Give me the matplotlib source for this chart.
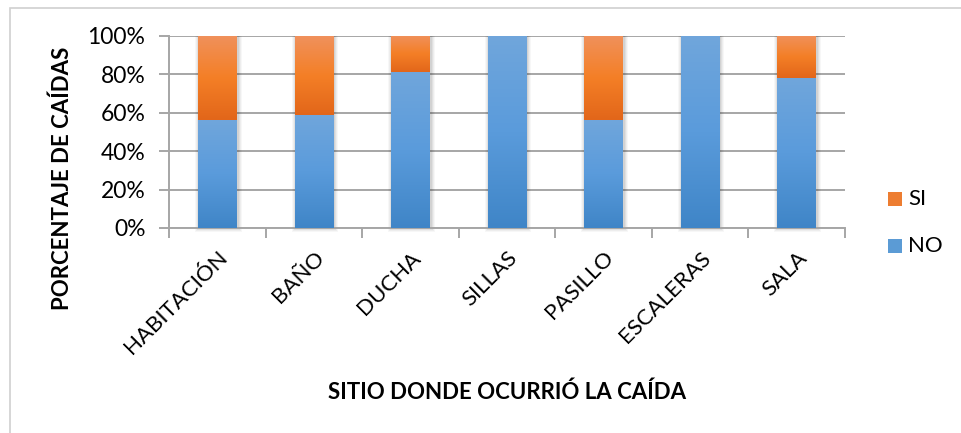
import numpy as np
import matplotlib.pyplot as plt
from matplotlib.colors import LinearSegmentedColormap
from matplotlib.patches import Rectangle

sitios = ['HABITACIÓN', 'BAÑO', 'DUCHA', 'SILLAS', 'PASILLO', 'ESCALERAS', 'SALA']
no_pct = [56, 59, 81, 100, 56, 100, 78]
si_pct = [44, 41, 19, 0, 44, 0, 22]
y_ticks = [0, 20, 40, 60, 80, 100]
series = ['SI', 'NO']
series_colors = ['#ed7d31', '#5b9bd5']

plt.rcParams['font.family'] = ['Lato', 'DejaVu Sans']

blue_cm = LinearSegmentedColormap.from_list('b', ['#3f85c7', '#5a9bdb', '#70a6dc'])
orange_cm = LinearSegmentedColormap.from_list('o', ['#e2661a', '#f47f26', '#f0915c'])
grad = np.linspace(0, 1, 256).reshape(-1, 1)

fig = plt.figure(figsize=(9.61, 4.33), dpi=100)
# outer chart frame (top/left edges visible)
fig.add_artist(Rectangle((10 / 961, -0.1), 1.2, (433 - 8) / 433 + 0.1,
                         transform=fig.transFigure, fill=False,
                         edgecolor='#d0d0d0', lw=1.2))

ax = fig.add_axes([169 / 961, (433 - 228) / 433, 676 / 961, 192 / 433])
x = np.arange(len(sitios))
w = 0.4
px_x = 7 / 676
px_y = 100 / 192

# soft shadows behind the full stacks
for i in x:
    top = no_pct[i] + si_pct[i]
    for k, a in [(4, 0.03), (3, 0.04), (2, 0.05), (1, 0.06)]:
        ax.add_patch(Rectangle((i - w / 2 - k * px_x + px_x, -k * px_y),
                               w + 2 * k * px_x, top + k * px_y,
                               facecolor='black', edgecolor='none', alpha=a,
                               zorder=2, clip_on=False))


def gradient_bar(xc, bottom, height, cmap):
    if height <= 0:
        return
    ax.imshow(grad, cmap=cmap, origin='lower', aspect='auto',
              extent=(xc - w / 2, xc + w / 2, bottom, bottom + height), zorder=3)


for i in x:
    gradient_bar(i, 0, no_pct[i], blue_cm)
    gradient_bar(i, no_pct[i], si_pct[i], orange_cm)

ax.set_xlim(-0.5, len(sitios) - 0.5)
ax.set_ylim(0, 100)
ax.set_yticks(y_ticks)
ax.set_yticklabels([f'{v}%' for v in y_ticks], fontsize=16.5)
ax.yaxis.grid(True, color='#a6a6a6', lw=1.4)
ax.set_axisbelow(True)
ax.tick_params(axis='y', length=7, width=1.4, color='#a6a6a6', pad=10)

ax.set_xticks(x)
ax.set_xticklabels(sitios, rotation=45, ha='right', rotation_mode='anchor', fontsize=16)
ax.set_xticks(np.arange(-0.5, len(sitios)), minor=True)
ax.tick_params(axis='x', which='major', length=0, pad=14)
ax.tick_params(axis='x', which='minor', length=7, width=1.4, color='#a6a6a6')

for s in ['top', 'right']:
    ax.spines[s].set_visible(False)
for s in ['left', 'bottom']:
    ax.spines[s].set_color('#a6a6a6')
    ax.spines[s].set_linewidth(1.4)

fig.text(62 / 961, 1 - 178 / 433, 'PORCENTAJE DE CAÍDAS', rotation=90,
         ha='center', va='center', fontsize=16, fontweight='bold')
fig.text(507 / 961, 1 - 392 / 433, 'SITIO DONDE OCURRIÓ LA CAÍDA',
         ha='center', va='center', fontsize=16, fontweight='bold')

# legend
for j, (lab, col) in enumerate(zip(series, series_colors)):
    yc = 199 + j * 47
    fig.add_artist(Rectangle((888 / 961, 1 - (yc + 7) / 433), 14 / 961, 14 / 433,
                             transform=fig.transFigure, facecolor=col, edgecolor='none'))
    fig.text(908 / 961, 1 - yc / 433, lab, ha='left', va='center', fontsize=16)

fig.savefig('out.png', dpi=100)
